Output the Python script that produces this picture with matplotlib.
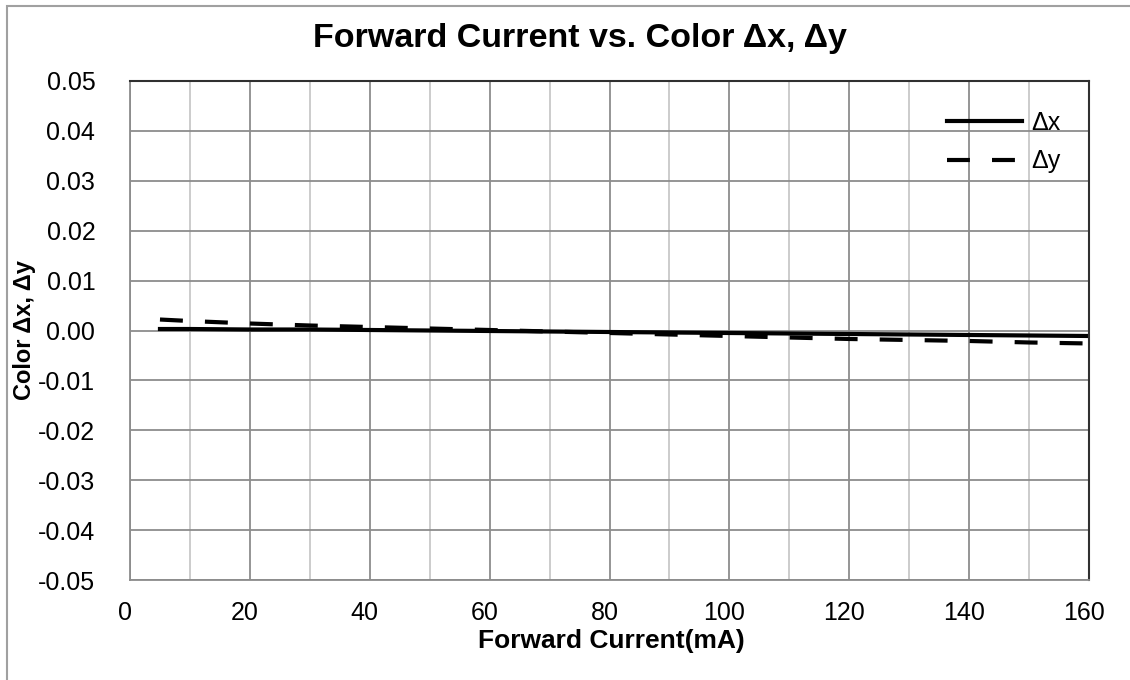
import matplotlib.pyplot as plt
from matplotlib.patches import Rectangle
from matplotlib.transforms import ScaledTranslation

plt.rcParams['font.family'] = ['Liberation Sans', 'DejaVu Sans']

# Forward current (mA) and colour shift values
current = [5, 10, 20, 30, 40, 50, 60, 70, 80, 90, 100, 110, 120, 130, 140, 150, 160]
delta_x = [0.0003, 0.0003, 0.0002, 0.0002, 0.0001, 0.0000, -0.0001, -0.0002, -0.0003,
           -0.0004, -0.0005, -0.0006, -0.0007, -0.0008, -0.0009, -0.0010, -0.0011]
delta_y = [0.0022, 0.0019, 0.0014, 0.0010, 0.0007, 0.0004, 0.0001, -0.0002, -0.0005,
           -0.0008, -0.0011, -0.0014, -0.0017, -0.0019, -0.0021, -0.0024, -0.0026]

fig = plt.figure(figsize=(11.3, 6.8), dpi=100)
ax = fig.add_axes([130 / 1130, 1 - 580 / 680, 959 / 1130, 499 / 680])

# outer chart border like the Excel chart area
fig.patches.append(Rectangle((7 / 1130, -0.05), 1.1, 1 - 6 / 680 + 0.05,
                             transform=fig.transFigure, fill=False,
                             edgecolor='#a0a0a0', linewidth=1.5))

ax.plot(current, delta_x, color='black', linewidth=3, label='Δx')
ax.plot(current, delta_y, color='black', linewidth=3, dashes=(5.5, 5.3), label='Δy')

ax.set_xlim(0, 160)
ax.set_ylim(-0.05, 0.05)
ax.set_xticks(range(0, 161, 20))
ax.set_xticks(range(10, 161, 20), minor=True)
ax.set_yticks([i / 100 for i in range(-5, 6)])
ax.set_yticklabels([f'{i / 100:.2f}' for i in range(-5, 6)])

ax.grid(which='major', axis='both', color='#8c8c8c', linewidth=1.3)
ax.grid(which='minor', axis='x', color='#c8c8c8', linewidth=1.3)
ax.set_axisbelow(True)

ax.tick_params(which='both', length=0, labelsize=18)
ax.tick_params(axis='y', pad=25)
ax.tick_params(axis='x', pad=15)
# Excel puts the x labels a few pixels left of the gridlines
shift = ScaledTranslation(-5 / 100, 0, fig.dpi_scale_trans)
for lab in ax.get_xticklabels():
    lab.set_transform(lab.get_transform() + shift)

for side in ['left', 'bottom']:
    ax.spines[side].set_color('#8c8c8c')
    ax.spines[side].set_linewidth(1.3)
for side in ['top', 'right']:
    ax.spines[side].set_color('#303030')
    ax.spines[side].set_linewidth(1.5)

fig.text(580 / 1130, 1 - 38 / 680, 'Forward Current vs. Color Δx, Δy',
         ha='center', va='center', fontsize=24.5, fontweight='bold')
fig.text(611 / 1130, 1 - 641 / 680, 'Forward Current(mA)',
         ha='center', va='center', fontsize=19, fontweight='bold')
fig.text(25 / 1130, 1 - 330 / 680, 'Color Δx, Δy', rotation=90,
         ha='center', va='center', fontsize=17, fontweight='bold')

leg = ax.legend(loc='upper left', frameon=False, fontsize=18,
                handlelength=3.0, handletextpad=0.35, labelspacing=0.57,
                borderpad=0, borderaxespad=0,
                bbox_to_anchor=(947 / 1130, 1 - 111 / 680),
                bbox_transform=fig.transFigure)

fig.savefig('out.png', dpi=100)
